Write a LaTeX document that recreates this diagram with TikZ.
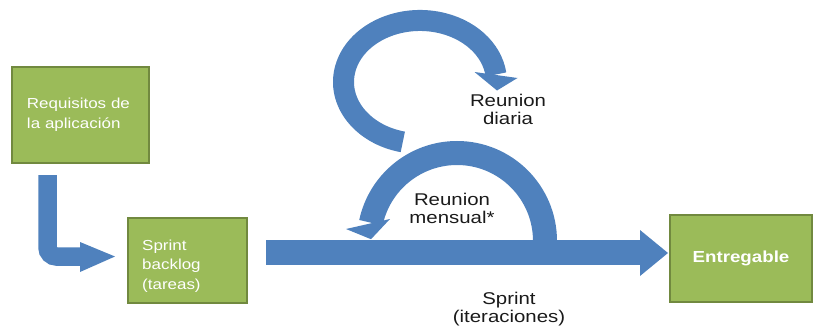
\documentclass[tikz,border=0pt]{standalone}
\usepackage{fontspec}
\setmainfont{Liberation Sans}
\newfontfamily\lblfont{Liberation Sans}[FakeStretch=1.2]
\newfontfamily\boxfont{Liberation Sans}[FakeStretch=1.17]
\usetikzlibrary{calc}
\definecolor{flowblue}{HTML}{4F81BD}
\definecolor{boxfill}{HTML}{9BBB59}
\definecolor{boxline}{HTML}{71893F}
\definecolor{labelink}{HTML}{1A1A1A}

\begin{document}
\begin{tikzpicture}[x=1pt,y=-1pt,
  stage/.style={draw=boxline, line width=2pt, fill=boxfill, text=white,
    inner sep=0pt, inner xsep=15pt, align=left,
    font=\boxfont\fontsize{14.5}{19.5}\selectfont},
  stagetext/.style={text=white, inner sep=0pt, align=left,
    font=\boxfont\fontsize{14.5}{19.5}\selectfont},
  caption/.style={text=labelink, align=center,
    font=\lblfont\fontsize{17}{18}\selectfont},
  band/.style={draw=flowblue, line cap=butt},
  tiphead/.style={fill=flowblue}]
\useasboundingbox (0,0) rectangle (813,329);

% process stages
\node[stage, text width=107pt, minimum height=96pt] (req) at (80.5,115)
  {Requisitos de\\la aplicación};
\node[stage, minimum width=119pt, minimum height=85pt] (backlog) at (187.5,260.5) {};
\node[stagetext, anchor=west] (backlogText) at ([xshift=15pt,yshift=-5.5pt]backlog.west)
  {Sprint\\backlog\\(tareas)};
\node[stage, align=center, inner xsep=0pt, minimum width=142pt, minimum height=87pt,
  font=\boxfont\bfseries\fontsize{16}{19}\selectfont] (deliv) at (741,258.5) {Entregable};

% end points of the flow bands
\coordinate (reqOut)      at (47.5,175);
\coordinate (backlogIn)   at (80.5,256.5);
\coordinate (sprintOut)   at (266,252.5);
\coordinate (sprintEnd)   at (640,252.5);
\coordinate (dailyStart)  at (402.8,141.9);
\coordinate (dailyEnd)    at (496,74.5);
\coordinate (monthCenter) at (457,241);
\coordinate (monthStart)  at (545,241);
\coordinate (monthEnd)    at (371,222.7);

% requirements feed the sprint backlog
\draw[band, line width=18.5pt, rounded corners=9pt] (reqOut) |- (backlogIn);
\fill[tiphead] ($(backlogIn)+(-0.5,-14.5)$) -- ($(backlogIn)+(34.5,0)$)
  -- ($(backlogIn)+(-0.5,15.5)$) -- cycle;

% daily meeting loop
\draw[band, line width=21pt] (dailyStart)
  arc[start angle=103, end angle=353, x radius=76.5, y radius=61.5];
\fill[tiphead] ($(dailyEnd)+(-21.5,-2.5)$) -- ($(dailyEnd)+(21.5,3.5)$)
  -- ($(dailyEnd)+(1,16)$) -- cycle;

% thin gap where the loops meet
\draw[white, line width=29pt] ($(monthCenter)+(-150:88)$)
  arc[start angle=-150, end angle=-100, radius=88];

% monthly meeting loop
\draw[band, line width=24pt] (monthStart)
  arc[start angle=0, end angle=-168, radius=88];
\fill[tiphead] ($(monthEnd)+(-25,6.3)$) -- ($(monthEnd)+(19,-3.7)$)
  -- ($(monthEnd)+(0,16.5)$) -- cycle;

% sprint band towards the deliverable
\draw[band, line width=25pt] (sprintOut) -- (sprintEnd);
\fill[tiphead] ($(sprintEnd)+(0,-22.5)$) -- ($(sprintEnd)+(28,0.5)$)
  -- ($(sprintEnd)+(0,23.5)$) -- cycle;

% labels
\node[caption] (daily)   at (508,109)   {Reunion\\diaria};
\node[caption] (monthly) at (452,208.5) {Reunion\\mensual*};
\node[caption] (sprint)  at (509,309)   {Sprint\\(iteraciones)};
\end{tikzpicture}
\end{document}
